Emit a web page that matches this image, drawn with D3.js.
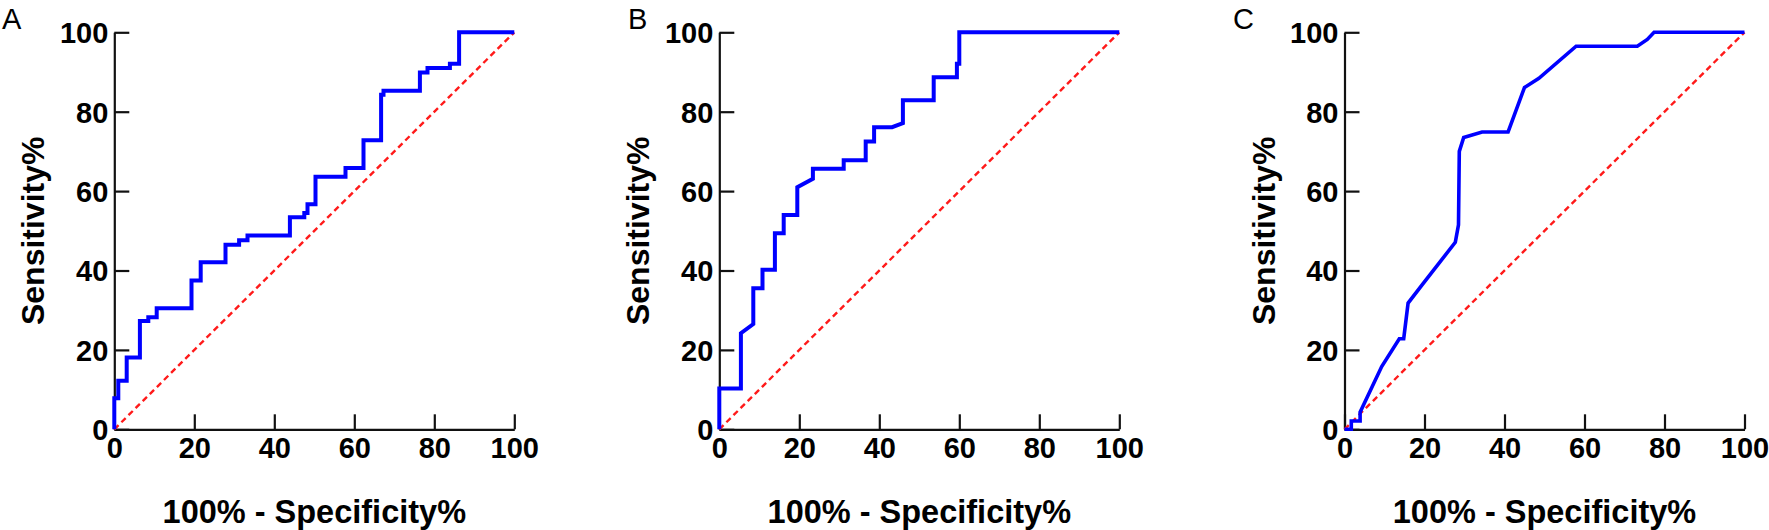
<!DOCTYPE html>
<html><head><meta charset="utf-8">
<script src="https://cdn.jsdelivr.net/npm/d3@7/dist/d3.min.js"></script>
<style>
body{margin:0;background:#fff}
svg{display:block}
.tick text{font-family:"Liberation Sans",Arial,sans-serif;font-weight:bold;font-size:29px;fill:#000}
</style>
</head><body>
<svg id="chart" width="1769" height="530"></svg>
<script>
// ---- data ----
const xTicks = [0, 20, 40, 60, 80, 100];
const yTicks = [0, 20, 40, 60, 80, 100];
const panelLabels = ["A", "B", "C"];
const xTitle = "100% - Specificity%";
const yTitle = "Sensitivity%";

// Panel A ROC vertices (100% - specificity, sensitivity)
const fprA = [0,0,1,1,3.1,3.1,6.4,6.4,8.5,8.5,10.6,10.6,19.3,19.3,21.6,21.6,27.8,27.8,31.2,31.2,33.3,33.3,43.9,43.9,47.5,47.5,48.3,48.3,50.3,50.3,57.8,57.8,62.3,62.3,66.7,66.7,67.3,67.3,76.4,76.4,78.3,78.3,83.9,83.9,86.2,86.2,100];
const tprA = [0,7.8,7.8,12.2,12.2,18.1,18.1,27.3,27.3,28.2,28.2,30.5,30.5,37.5,37.5,42.1,42.1,46.5,46.5,47.6,47.6,48.8,48.8,53.4,53.4,54.5,54.5,56.7,56.7,63.6,63.6,65.8,65.8,72.8,72.8,84.3,84.3,85.3,85.3,89.9,89.9,91,91,92.1,92.1,100,100];

// Panel B
const fprB = [0,0,5.4,5.4,8.5,8.5,10.8,10.8,13.9,13.9,16.1,16.1,19.5,19.5,23.4,23.4,31.1,31.1,36.6,36.6,38.7,38.7,43.2,45.9,45.9,53.6,53.6,59.4,59.4,60,60,100];
const tprB = [0,10.3,10.3,24.2,26.5,35.5,35.5,40.2,40.2,49.4,49.4,54.0,54.0,61.0,63.1,65.6,65.6,67.8,67.8,72.5,72.5,76.1,76.1,77.1,82.9,82.9,88.7,88.7,92.1,92.1,100,100];

// Panel C
const fprC = [0,1.7,1.7,3.9,3.9,9.3,13.7,14.8,15.9,19.4,27.7,28.5,28.7,29.8,34.4,40.9,45.0,48.6,57.9,73.2,75.7,77.4,100];
const tprC = [0,0,2.1,2.1,4.3,15.8,22.8,22.8,31.8,36.4,47.1,51.5,70.0,73.5,74.9,74.9,86.1,88.4,96.5,96.5,98.2,100,100];

// chance line
const refFpr = [0, 100];
const refTpr = [0, 100];

// ---- layout ----
const panels = [
  {x0: 114.3, lx: 2,    fpr: fprA, tpr: tprA, lw: 4},
  {x0: 719.3, lx: 628,  fpr: fprB, tpr: tprB, lw: 4},
  {x0: 1344.5, lx: 1233, fpr: fprC, tpr: tprC, lw: 3.6}
];
const W = 400, yTop = 32.3, yBot = 429.3;
const svg = d3.select("#chart");

panels.forEach((p, i) => {
  const x = d3.scaleLinear().domain([0, 100]).range([p.x0, p.x0 + W]);
  const y = d3.scaleLinear().domain([0, 100]).range([yBot, yTop]);
  const g = svg.append("g");

  // axes
  const xa = g.append("g").attr("transform", `translate(0,${yBot})`)
    .call(d3.axisBottom(x).tickValues(xTicks).tickFormat(d3.format("d"))
      .tickSizeInner(-15).tickSizeOuter(0).tickPadding(8));
  const ya = g.append("g").attr("transform", `translate(${p.x0},0)`)
    .call(d3.axisLeft(y).tickValues(yTicks).tickFormat(d3.format("d"))
      .tickSizeInner(-15).tickSizeOuter(0).tickPadding(6));
  [xa, ya].forEach(a => {
    a.select(".domain").attr("stroke", "#111").attr("stroke-width", 2.2);
    a.selectAll(".tick line").attr("stroke", "#111").attr("stroke-width", 2.2);
  });
  xa.selectAll(".tick text").attr("dy", "0.72em");
  ya.selectAll(".tick text").attr("dy", "0.36em");

  // reference line
  const line = d3.line().x(d => x(d[0])).y(d => y(d[1]));
  g.append("path")
    .datum(d3.zip(refFpr, refTpr))
    .attr("d", line)
    .attr("fill", "none").attr("stroke", "#ff1a1a")
    .attr("stroke-width", 2.4).attr("stroke-dasharray", "6,4");

  // ROC curve
  g.append("path")
    .datum(d3.zip(p.fpr, p.tpr))
    .attr("d", line)
    .attr("fill", "none").attr("stroke", "#0000ff")
    .attr("stroke-width", p.lw).attr("stroke-linejoin", "miter");

  // titles
  g.append("text")
    .attr("x", p.x0 + W / 2).attr("y", 523)
    .attr("text-anchor", "middle")
    .style("font-family", '"Liberation Sans",Arial,sans-serif')
    .style("font-weight", "bold").style("font-size", "32.5px")
    .text(xTitle);
  g.append("text")
    .attr("transform", `translate(${p.x0 - 70},${(yTop + yBot) / 2}) rotate(-90)`)
    .attr("text-anchor", "middle")
    .style("font-family", '"Liberation Sans",Arial,sans-serif')
    .style("font-weight", "bold").style("font-size", "32px")
    .text(yTitle);

  // panel letter
  g.append("text")
    .attr("x", p.lx).attr("y", 29)
    .style("font-family", '"Liberation Sans",Arial,sans-serif')
    .style("font-weight", "normal").style("font-size", "29px")
    .text(panelLabels[i]);
});
</script>
</body></html>
